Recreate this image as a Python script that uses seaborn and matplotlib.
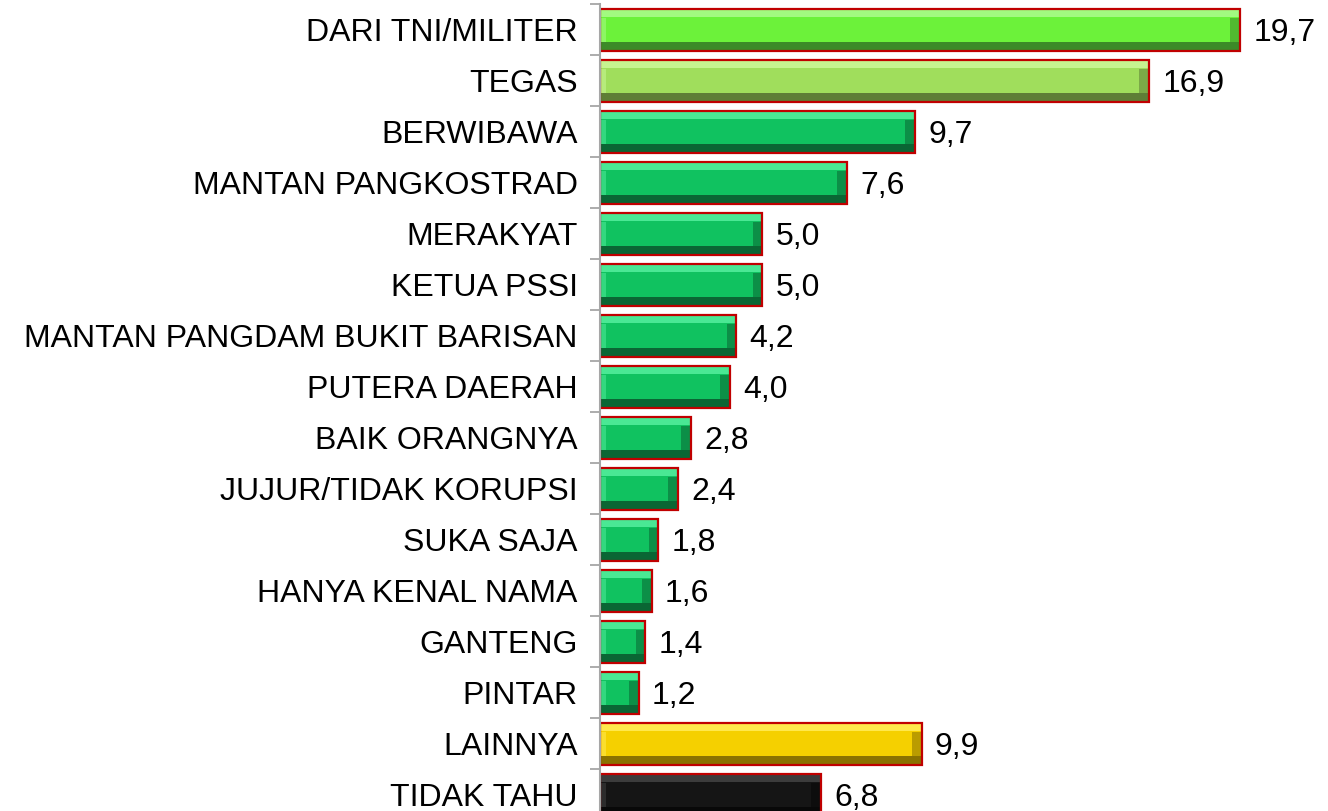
import numpy as np
import pandas as pd
import matplotlib
matplotlib.use("Agg")
import matplotlib.pyplot as plt
import seaborn as sns

# data
categories = ["DARI TNI/MILITER", "TEGAS", "BERWIBAWA", "MANTAN PANGKOSTRAD",
              "MERAKYAT", "KETUA PSSI", "MANTAN PANGDAM BUKIT BARISAN",
              "PUTERA DAERAH", "BAIK ORANGNYA", "JUJUR/TIDAK KORUPSI",
              "SUKA SAJA", "HANYA KENAL NAMA", "GANTENG", "PINTAR",
              "LAINNYA", "TIDAK TAHU"]
values = [19.7, 16.9, 9.7, 7.6, 5.0, 5.0, 4.2, 4.0, 2.8, 2.4,
          1.8, 1.6, 1.4, 1.2, 9.9, 6.8]
groups = ["lime", "olive"] + ["green"] * 12 + ["yellow", "black"]

# face / light bevel / dark bevel
palette = {
    "lime":   ("#6CF23A", "#A2FA80", "#3C8A28"),
    "olive":  ("#A0DE5C", "#C6F490", "#5E7E36"),
    "green":  ("#10C260", "#4AE894", "#0A6634"),
    "yellow": ("#F5D000", "#FFE84C", "#8A7200"),
    "black":  ("#151515", "#3C3C3C", "#080808"),
}

df = pd.DataFrame({"kategori": categories, "nilai": values, "grup": groups})

sns.set_style("white")
plt.rcParams["font.family"] = ["Liberation Sans", "DejaVu Sans"]
plt.rcParams["text.color"] = "black"

fig = plt.figure(figsize=(13.28, 8.11), dpi=100)
ax = fig.add_axes([0.4518, -0.0117, 0.5482, 1.0062])

BAR_H = 0.82
sns.barplot(data=df, y="kategori", x="nilai", hue="grup", orient="h",
            palette={k: v[0] for k, v in palette.items()}, dodge=False,
            width=BAR_H, legend=False, ax=ax, saturation=1,
            edgecolor="none", linewidth=0)

# bevel bands built from the same values
pos = np.arange(len(values))
vals = np.array(values)
light = [palette[g][1] for g in groups]
dark = [palette[g][2] for g in groups]
end_w = 0.30
ax.barh(pos - BAR_H / 2 + 0.08, vals, height=0.16, color=light, linewidth=0)
ax.barh(pos + BAR_H / 2 - 0.09, vals, height=0.18, color=dark, linewidth=0)
ax.barh(pos, np.full(len(vals), end_w), left=vals - end_w, height=BAR_H - 0.34,
        color=dark, linewidth=0, alpha=0.55)
ax.barh(pos, np.full(len(vals), 0.2), height=BAR_H - 0.34,
        color=light, linewidth=0, alpha=0.6)
# red outline
ax.barh(pos, vals, height=BAR_H, facecolor="none", edgecolor="#C00000",
        linewidth=1.6)

ax.set_xlim(0, 22.4)
ax.set_ylim(len(values) - 0.5, -0.5)

for p, v in zip(pos, vals):
    ax.text(v + 0.4, p + 0.05, f"{v:.1f}".replace(".", ","), va="center",
            ha="left", fontsize=23, color="black")

ax.set_xlabel("")
ax.set_ylabel("")
ax.set_xticks([])
ax.set_yticks(pos)
ax.set_yticklabels(categories, fontsize=23, color="black")
ax.set_yticks(np.arange(len(values) + 1) - 0.5, minor=True)
ax.tick_params(axis="y", which="minor", left=True, direction="out",
               length=7, width=1.3, color="#A6A6A6")
ax.tick_params(axis="y", which="major", left=True, length=0, pad=16)

for s in ["top", "right", "bottom"]:
    ax.spines[s].set_visible(False)
ax.spines["left"].set_color("#A6A6A6")
ax.spines["left"].set_linewidth(1.5)

fig.savefig("out.png", dpi=100)
